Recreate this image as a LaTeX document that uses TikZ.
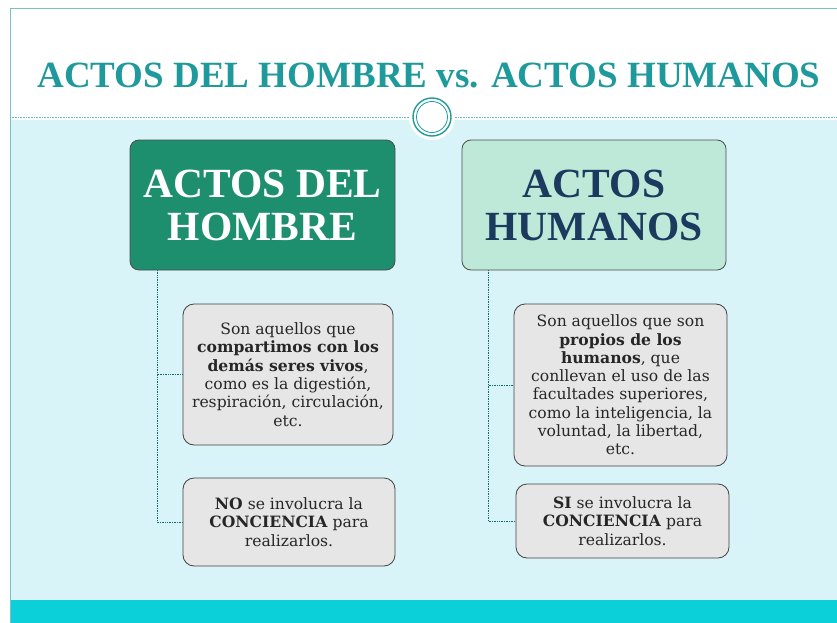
\documentclass[tikz,border=0pt]{standalone}
\usepackage{fontspec}
\setmainfont{Liberation Serif}
\newfontfamily\subfont{DejaVu Serif}
\usetikzlibrary{positioning}
\definecolor{teal1}{HTML}{1E9A9C}
\definecolor{bgc}{HTML}{D8F4F8}
\definecolor{barc}{HTML}{0BCFD9}
\definecolor{greenbox}{HTML}{1E8F6E}
\definecolor{mintbox}{HTML}{BEE9D8}
\definecolor{navy}{HTML}{1B3A5E}
\definecolor{grayfill}{HTML}{E6E6E6}
\tikzset{
  mainbox/.style={draw=black!70, line width=0.8pt, rounded corners=9pt, align=center, font=\fontsize{41.5}{43}\selectfont\bfseries},
  subbox/.style={draw=black!75, line width=0.8pt, fill=grayfill, rounded corners=11pt, align=center, inner sep=2pt, text=black!85, font=\subfont\fontsize{15.6}{18.3}\selectfont},
  conn/.style={densely dotted, draw=teal1!70!black, line width=0.7pt}
}
\begin{document}
\begin{tikzpicture}[x=1pt,y=-1pt]
\useasboundingbox (0,0) rectangle (837,623);
\fill[white] (0,0) rectangle (837,623);
\fill[bgc] (10,120) rectangle (837,600);
\fill[barc] (10,600) rectangle (837,623);
\draw[teal1!60, line width=0.8pt] (10,623) -- (10,8) -- (837,8);
\draw[teal1!70, densely dotted, line width=0.6pt] (10,117) -- (837,117);
\node[font=\fontsize{37}{40}\selectfont\bfseries, text=teal1] (title) at (429,76) {ACTOS DEL HOMBRE vs. ACTOS HUMANOS};
\node[circle, fill=white, minimum size=46pt, inner sep=0pt] (ring) at (432,117) {};
\draw[teal1, line width=1.4pt] (ring.center) circle (19pt);
\draw[teal1, line width=0.8pt] (ring.center) circle (15.5pt);

\node[mainbox, fill=greenbox, text=white, minimum width=265pt, minimum height=130pt] (ah) at (262.5,205) {ACTOS DEL\\HOMBRE};
\node[mainbox, fill=mintbox, text=navy, minimum width=264pt, minimum height=130pt] (ahu) at (594,205) {ACTOS\\HUMANOS};

\node[subbox, minimum width=210pt, minimum height=141pt] (l1) at (288,374.5) {Son aquellos que\\\textbf{compartimos con los}\\\textbf{demás seres vivos},\\como es la digestión,\\respiración, circulación,\\etc.};
\node[subbox, minimum width=212pt, minimum height=88pt] (l2) at (289,522) {\textbf{NO} se involucra la\\\textbf{CONCIENCIA} para\\realizarlos.};
\node[subbox, minimum width=213pt, minimum height=162pt] (r1) at (620.5,385) {Son aquellos que son\\\textbf{propios de los}\\\textbf{humanos}, que\\conllevan el uso de las\\facultades superiores,\\como la inteligencia, la\\voluntad, la libertad,\\etc.};
\node[subbox, minimum width=213pt, minimum height=74pt] (r2) at (622.5,521) {\textbf{SI} se involucra la\\\textbf{CONCIENCIA} para\\realizarlos.};

\coordinate (lt) at (157,270);
\coordinate (rt) at (488,270);
\draw[conn] (lt) |- (l1.west);
\draw[conn] (lt) |- (l2.west);
\draw[conn] (rt) |- (r1.west);
\draw[conn] (rt) |- (r2.west);
\end{tikzpicture}
\end{document}
